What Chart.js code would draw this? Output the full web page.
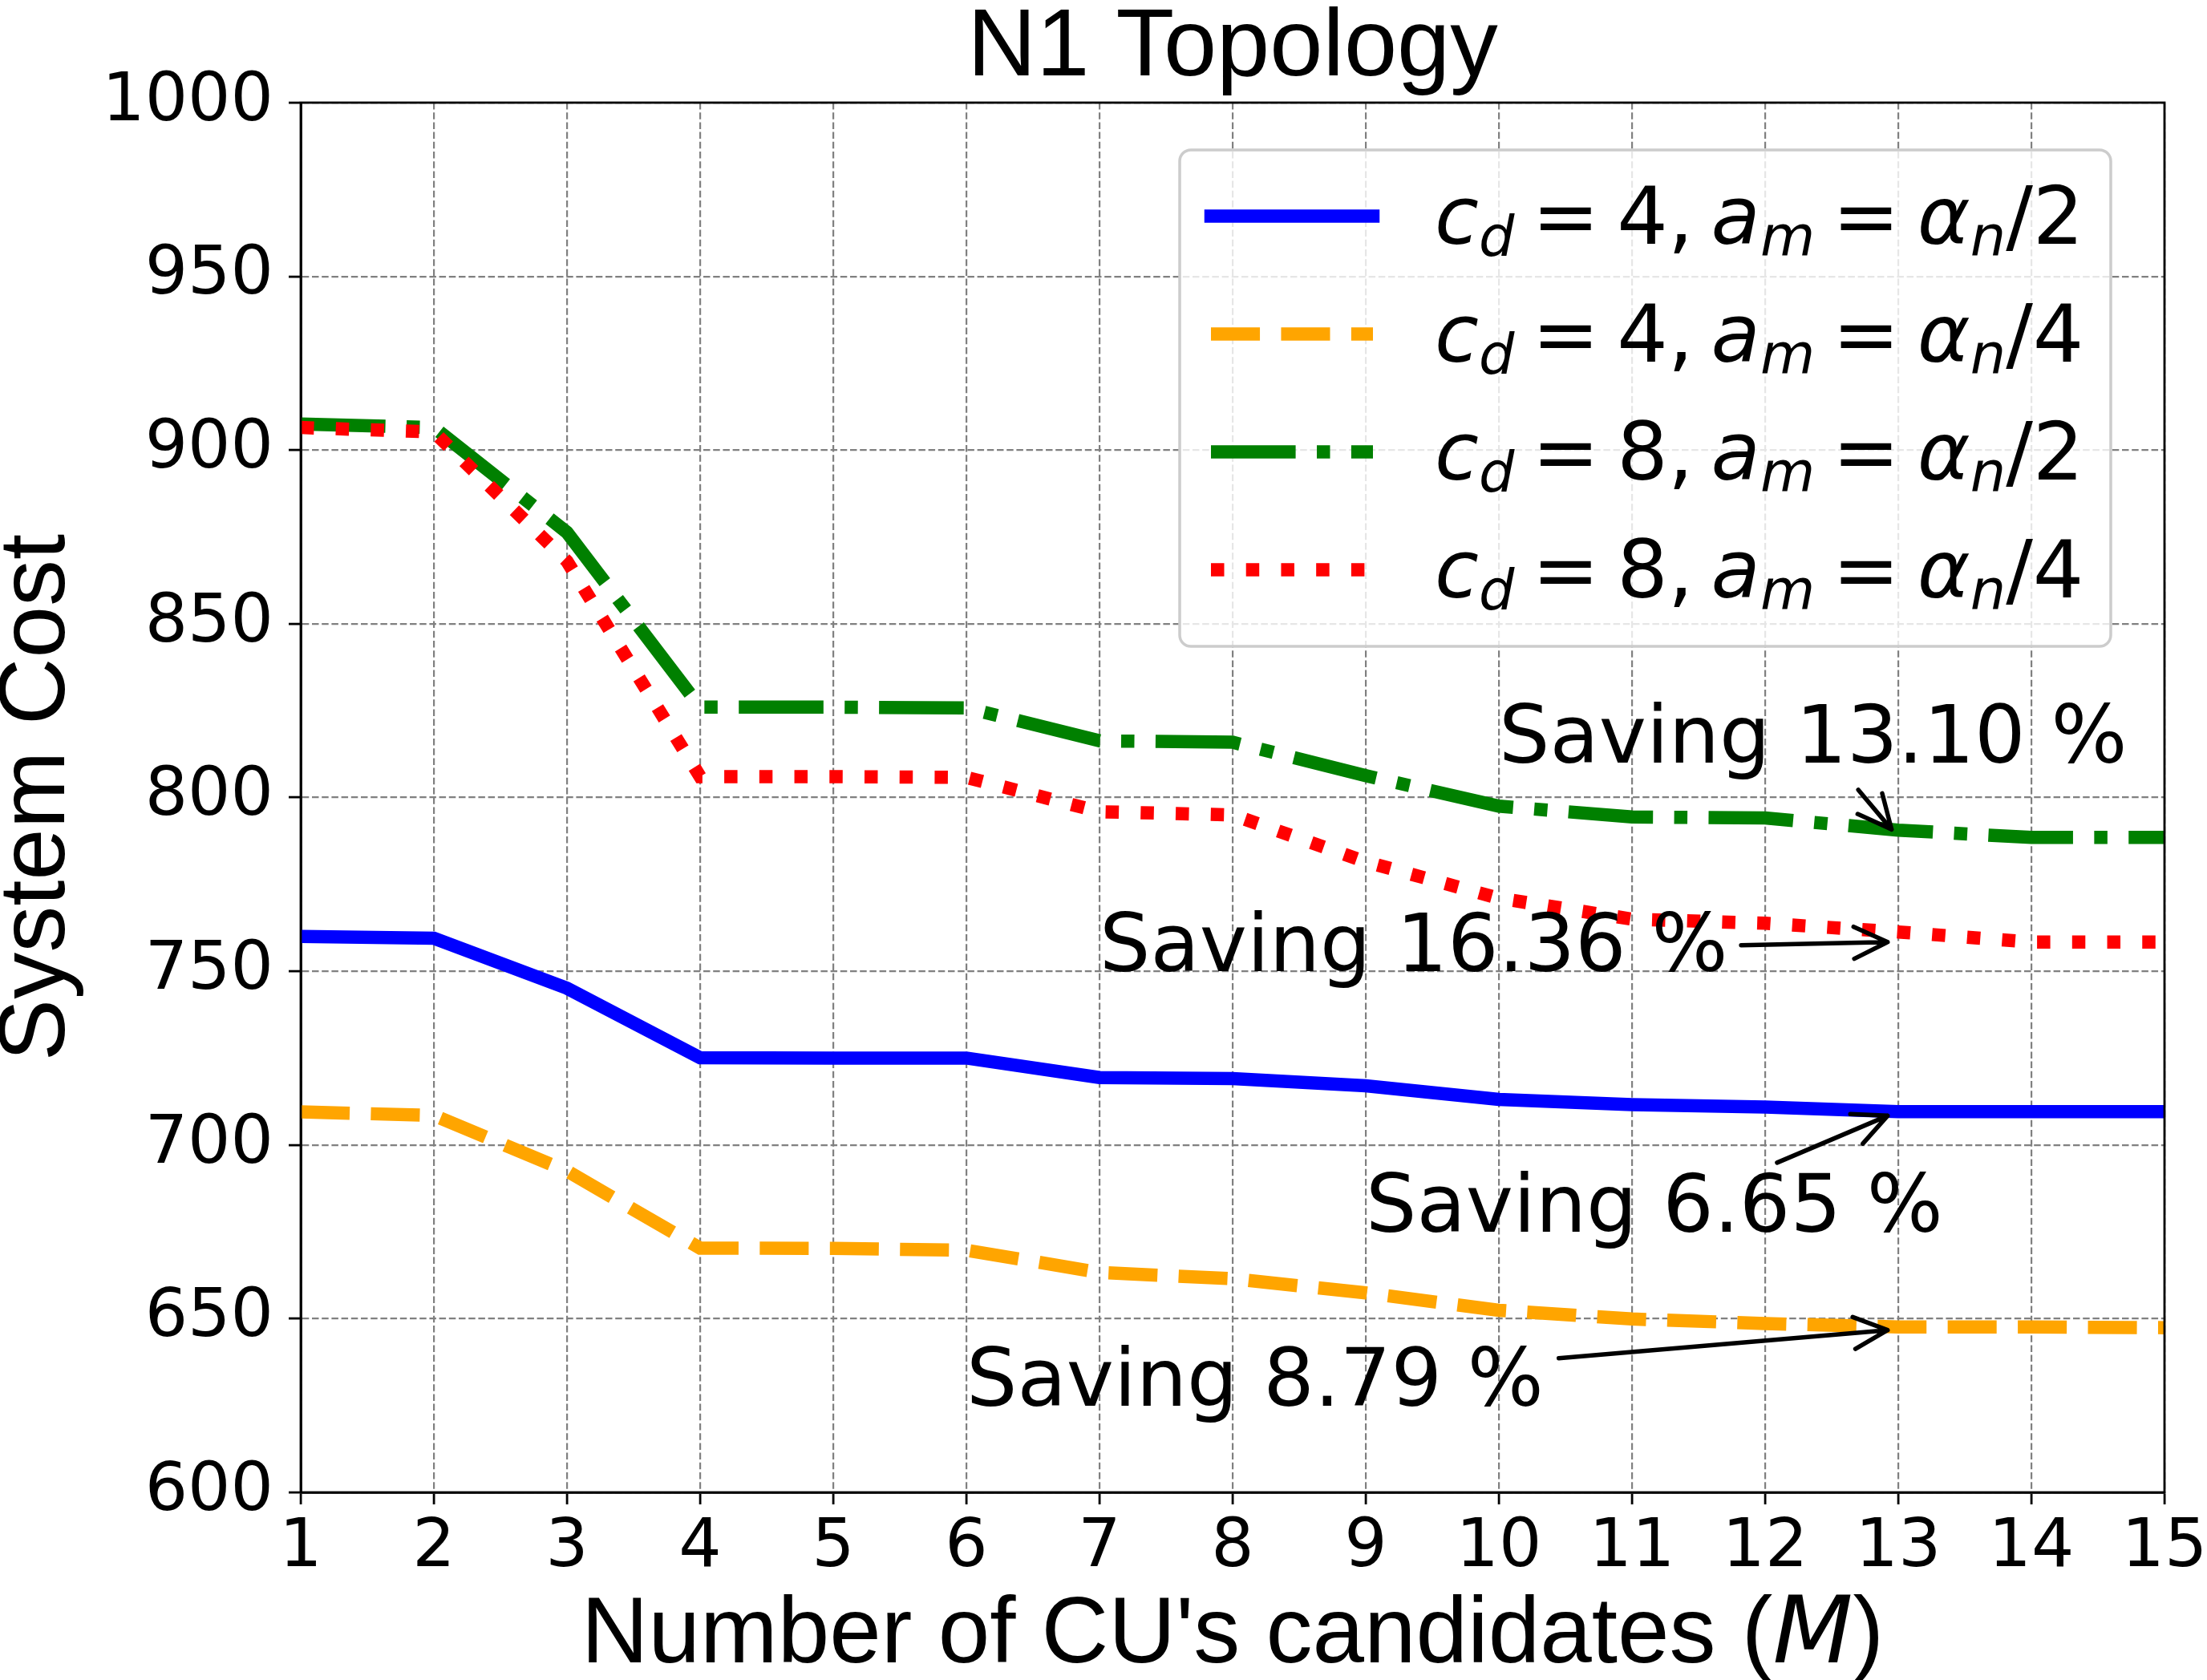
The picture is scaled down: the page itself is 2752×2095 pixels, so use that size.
<!DOCTYPE html>
<html>
<head>
<meta charset="utf-8">
<script src="https://cdn.jsdelivr.net/npm/chart.js@4.4.1/dist/chart.umd.min.js"></script>
<style>
  html, body { margin: 0; padding: 0; background: #fff; overflow: hidden; }
  #wrap { width: 2752px; height: 2095px; }
</style>
</head>
<body>
<div id="wrap"><canvas id="costChart" width="2752" height="2095"></canvas></div>
<script>
// --- Data ---
const candidates = [1, 2, 3, 4, 5, 6, 7, 8, 9, 10, 11, 12, 13, 14, 15];
const costCd4Half    = [760, 759.5, 745.1, 725.1, 725, 725, 719.4, 719.1, 717, 713.1, 711.6, 710.9, 709.6, 709.6, 709.6];
const costCd4Quarter = [709.5, 708.5, 692.5, 670.3, 670.2, 669.7, 663.3, 661.5, 657.4, 652.4, 649.9, 648.6, 647.6, 647.6, 647.4];
const costCd8Half    = [907.5, 906.5, 876.3, 826, 826, 825.8, 816.3, 815.9, 806.3, 797.5, 794.4, 794.1, 790.6, 788.5, 788.5];
const costCd8Quarter = [906.5, 905.2, 868, 806, 806, 805.8, 795.9, 795, 781.5, 771, 765, 763.8, 761.3, 758.4, 758.4];

// legend parameters: c_d and the divisor of alpha_n
const legendCd  = [4, 4, 8, 8];
const legendDiv = [2, 4, 2, 4];

const yTicks = [600, 650, 700, 750, 800, 850, 900, 950, 1000];

// annotations ("Saving ..." text + arrow), all in data coordinates
const savingLabels    = ['Saving 13.10 %', 'Saving 16.36 %', 'Saving 6.65 %', 'Saving 8.79 %'];
const savingTextX     = [10, 7, 9, 6];
const savingTextY     = [810, 750, 675, 625];
const savingArrowFrom = [[12.70, 802.2], [11.82, 757.5], [12.09, 694.9], [10.45, 638.6]];
const savingArrowTo   = [[12.95, 790.8], [12.92, 758.4], [12.92, 708.4], [12.92, 646.7]];

// --- helpers ---
const LW = 16.5;
const toPoints = ys => candidates.map((x, i) => ({ x, y: ys[i] }));

function mathParts(cd, div) {
  return [
    { t: 'c', it: true }, { t: 'd', it: true, sub: true }, { t: ' ' }, { t: '=' }, { t: ' ' },
    { t: String(cd) }, { t: ',' }, { t: ' ' },
    { t: 'a', it: true }, { t: 'm', it: true, sub: true }, { t: ' ' }, { t: '=' }, { t: ' ' },
    { t: '\u03b1', it: true }, { t: 'n', it: true, sub: true }, { t: '/' }, { t: String(div) }
  ];
}

function drawMath(ctx, parts, x, y, size) {
  ctx.textBaseline = 'alphabetic';
  ctx.textAlign = 'left';
  for (const p of parts) {
    if (p.t === ' ') { x += size * 0.22; continue; }
    const s = p.sub ? size * 0.7 : size;
    ctx.font = (p.it ? 'italic ' : '') + s + 'px "DejaVu Sans"';
    ctx.fillText(p.t, x, y + (p.sub ? size * 0.15 : 0));
    x += ctx.measureText(p.t).width;
  }
}

function drawArrow(ctx, x0, y0, x1, y1) {
  const dx = x1 - x0, dy = y1 - y0;
  const len = Math.hypot(dx, dy);
  const ux = dx / len, uy = dy / len;
  const hl = 42, hw = 20;
  ctx.beginPath();
  ctx.moveTo(x0, y0);
  ctx.lineTo(x1, y1);
  ctx.moveTo(x1 - ux * hl - uy * hw, y1 - uy * hl + ux * hw);
  ctx.lineTo(x1, y1);
  ctx.lineTo(x1 - ux * hl + uy * hw, y1 - uy * hl - ux * hw);
  ctx.stroke();
}

// --- extra drawing: frame, x title, annotations, legend ---
const overlayPlugin = {
  id: 'overlay',
  afterDatasetsDraw(chart) {
    const { ctx, chartArea: a } = chart;
    ctx.save();
    ctx.setLineDash([]);
    ctx.strokeStyle = '#000';
    ctx.lineWidth = 2.8;
    ctx.strokeRect(a.left, a.top, a.right - a.left, a.bottom - a.top);
    ctx.restore();
  },
  afterDraw(chart) {
    const { ctx, chartArea: a, scales } = chart;
    const xs = scales.x, ys = scales.y;
    ctx.save();
    ctx.fillStyle = '#000';

    // x axis title with italic M
    const pre = "Number of CU's candidates (", mid = 'M', post = ')';
    const fs = 116;
    ctx.font = fs + 'px "Liberation Sans", Arial';
    const w1 = ctx.measureText(pre).width, w3 = ctx.measureText(post).width;
    ctx.font = 'italic ' + fs + 'px "DejaVu Sans"';
    const w2 = ctx.measureText(mid).width;
    let tx = (a.left + a.right) / 2 - (w1 + w2 + w3) / 2;
    const ty = 2073;
    ctx.textBaseline = 'alphabetic';
    ctx.textAlign = 'left';
    ctx.font = fs + 'px "Liberation Sans", Arial';
    ctx.fillText(pre, tx, ty); tx += w1;
    ctx.font = 'italic ' + fs + 'px "DejaVu Sans"';
    ctx.fillText(mid, tx, ty); tx += w2;
    ctx.font = fs + 'px "Liberation Sans", Arial';
    ctx.fillText(post, tx, ty);

    // annotations
    ctx.font = '100px "DejaVu Sans"';
    savingLabels.forEach((label, i) => {
      ctx.fillText(label, xs.getPixelForValue(savingTextX[i]), ys.getPixelForValue(savingTextY[i]));
    });
    ctx.strokeStyle = '#000';
    ctx.lineWidth = 5.5;
    ctx.lineCap = 'round';
    ctx.lineJoin = 'round';
    savingArrowFrom.forEach((from, i) => {
      const to = savingArrowTo[i];
      drawArrow(ctx, xs.getPixelForValue(from[0]), ys.getPixelForValue(from[1]),
                xs.getPixelForValue(to[0]), ys.getPixelForValue(to[1]));
    });

    // legend
    const bw = 1161, bh = 619;
    const bx = a.right - 67 - bw, by = a.top + 59;
    ctx.beginPath();
    ctx.roundRect(bx, by, bw, bh, 14);
    ctx.fillStyle = 'rgba(255,255,255,0.8)';
    ctx.fill();
    ctx.lineWidth = 3.5;
    ctx.strokeStyle = '#cccccc';
    ctx.stroke();

    chart.data.datasets.forEach((ds, i) => {
      const rowY = by + 82.5 + i * 147;
      ctx.beginPath();
      ctx.setLineDash(ds.borderDash || []);
      ctx.lineCap = ds.borderCapStyle || 'butt';
      ctx.lineWidth = ds.borderWidth;
      ctx.strokeStyle = ds.borderColor;
      ctx.moveTo(bx + 39, rowY);
      ctx.lineTo(bx + 241, rowY);
      ctx.stroke();
      ctx.setLineDash([]);
      ctx.fillStyle = '#000';
      drawMath(ctx, mathParts(legendCd[i], legendDiv[i]), bx + 318, rowY + 34, 100);
    });
    ctx.restore();
  }
};

// --- Chart ---
const tickFont = { family: 'DejaVu Sans', size: 84, lineHeight: 1 };
const gridOpts = {
  color: '#808080',
  lineWidth: 2.2,
  borderDash: [8.5, 3.7],
  drawTicks: true,
  tickLength: 15,
  tickColor: '#000',
  tickWidth: 2.8,
  tickBorderDash: []
};
const borderOpts = { display: true, color: '#000', width: 2.8, dash: [8.5, 3.7] };

new Chart(document.getElementById('costChart'), {
  type: 'line',
  data: {
    datasets: [
      { label: 'c_d = 4, a_m = \u03b1_n/2', data: toPoints(costCd4Half), borderColor: '#0000ff',
        borderWidth: LW, borderCapStyle: 'square', order: 3 },
      { label: 'c_d = 4, a_m = \u03b1_n/4', data: toPoints(costCd4Quarter), borderColor: '#ffa500',
        borderWidth: LW, borderDash: [3.7 * LW, 1.6 * LW], order: 2 },
      { label: 'c_d = 8, a_m = \u03b1_n/2', data: toPoints(costCd8Half), borderColor: '#008000',
        borderWidth: LW, borderDash: [6.4 * LW, 1.6 * LW, 1.0 * LW, 1.6 * LW], order: 1 },
      { label: 'c_d = 8, a_m = \u03b1_n/4', data: toPoints(costCd8Quarter), borderColor: '#ff0000',
        borderWidth: LW, borderDash: [1.0 * LW, 1.65 * LW], order: 0 }
    ].map(d => Object.assign({ pointRadius: 0, tension: 0, fill: false, clip: 0 }, d))
  },
  options: {
    responsive: false,
    devicePixelRatio: 1,
    animation: false,
    layout: { padding: { left: 0, right: 53, top: 0, bottom: 0 } },
    plugins: {
      legend: { display: false },
      tooltip: { enabled: false },
      title: {
        display: true,
        text: 'N1 Topology',
        color: '#000',
        fullSize: false,
        font: { family: 'Liberation Sans', size: 119, weight: 'normal', lineHeight: 1 },
        padding: { top: 2, bottom: 7 }
      }
    },
    scales: {
      x: {
        type: 'linear',
        min: 1,
        max: 15,
        grid: gridOpts,
        border: borderOpts,
        ticks: {
          stepSize: 1, autoSkip: false, maxRotation: 0, color: '#000',
          font: tickFont, padding: 13
        },
        afterFit: s => { s.height = 234; s.paddingRight = 40; }
      },
      y: {
        min: 600,
        max: 1000,
        grid: gridOpts,
        border: borderOpts,
        afterBuildTicks: s => { s.ticks = yTicks.map(v => ({ value: v })); },
        ticks: {
          color: '#000', font: tickFont, padding: 19,
          callback: v => String(v)
        },
        title: {
          display: true,
          text: 'System Cost',
          color: '#000',
          font: { family: 'Liberation Sans', size: 116, lineHeight: 0.8 },
          padding: { top: 2, bottom: 0 }
        },
        afterFit: s => { s.width = 375; }
      }
    }
  },
  plugins: [overlayPlugin]
});
</script>
</body>
</html>
